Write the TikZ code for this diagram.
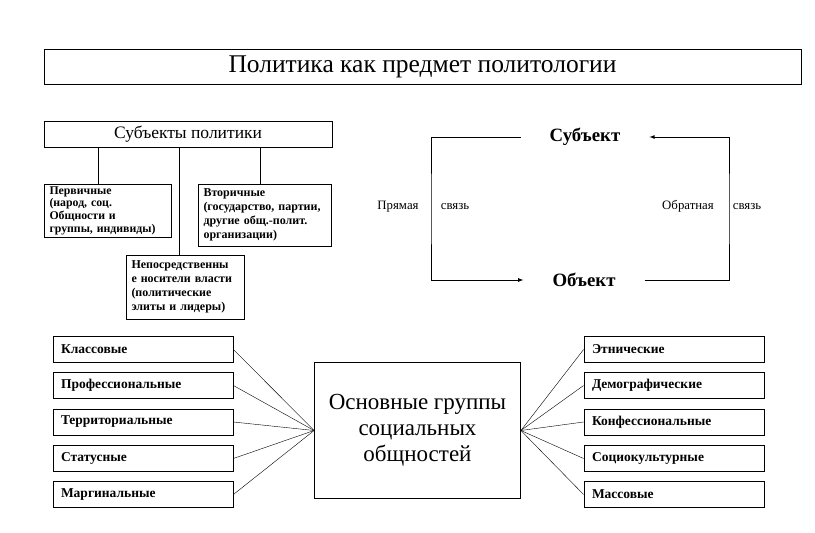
\documentclass[tikz,border=0pt]{standalone}
\usepackage{fontspec}
\setmainfont{Liberation Serif}
\usepackage{tikz}
\usetikzlibrary{arrows}
\tikzset{t/.style={font=\fontsize{25.5}{25.5}\selectfont}}
\tikzset{b/.style={draw, line width=0.8pt, align=left, inner xsep=8pt, inner ysep=0pt}}
\tikzset{s/.style={b, inner xsep=5.5pt, font=\bfseries\fontsize{12}{14}\selectfont}}
\tikzset{g/.style={b, font=\bfseries\fontsize{13.5}{13.5}\selectfont, text width=164pt, minimum height=26pt}}
\tikzset{l/.style={anchor=base, font=\fontsize{12.8}{12.8}\selectfont}}
\tikzset{so/.style={font=\bfseries\fontsize{18.8}{18.8}\selectfont, inner xsep=29pt}}

\begin{document}
\begin{tikzpicture}[x=1pt, y=-1pt]
    \useasboundingbox (0,0) rectangle (815,533);
    % title
    \node [draw, line width=1pt, minimum width=757pt, minimum height=35pt, t] (title) at (422.5,66.5) {Политика как предмет политологии};

    % subjects of politics
    \node [b, align=center, minimum width=288pt, minimum height=26pt, font=\fontsize{17.5}{17.5}\selectfont] (sp) at (188,134) {Субъекты политики};
    \node [s, font=\bfseries\fontsize{11.8}{12.7}\selectfont, text width=116pt, minimum height=53pt] (p1) at (107.5,210.5) {Первичные\\(народ, соц.\\Общности и\\группы, индивиды)};
    \node [s, text width=122pt, minimum height=62pt] (p2) at (264.5,215) {Вторичные\\(государство, партии,\\другие общ.-полит.\\организации)};
    \node [s, text width=107pt, minimum height=64pt] (p3) at (185,287) {Непосредственны\\е носители власти\\(политические\\элиты и лидеры)};
    \draw [line width=0.8pt] (98,0 |- sp.south) -- (98,0 |- p1.north);
    \draw [line width=0.8pt] (179,0 |- sp.south) -- (179,0 |- p3.north);
    \draw [line width=0.8pt] (260,0 |- sp.south) -- (260,0 |- p2.north);

    % subject and object
    \node [so] (S) at (585,137) {Субъект};
    \node [so] (O) at (584,280) {Объект};
    \coordinate (L) at (431,209);
    \coordinate (R) at (729,209);
    \draw [line width=0.8pt, -latex] (S.west) -| (L) |- (O.west);
    \draw [line width=0.8pt, -latex] (O.east) -| (R) |- (S.east);
    \node [l] (d1) at (398,209) {Прямая};
    \node [l] (d2) at (455,209) {связь};
    \node [l] (r1) at (688,209) {Обратная};
    \node [l] (r2) at (747,209) {связь};

    % basic groups
    \node [b, align=center, minimum width=206pt, minimum height=136pt, font=\fontsize{23}{26}\selectfont] (C) at (417.5,430.5) {Основные группы\\социальных\\общностей};
    \node [g] (k1) at (143,349.5) {Классовые};
    \node [g] (k2) at (143,385.5) {Профессиональные};
    \node [g] (k3) at (143,422) {Территориальные};
    \node [g] (k4) at (143,458.5) {Статусные};
    \node [g] (k5) at (143,494.5) {Маргинальные};
    \node [g] (e1) at (674,349.5) {Этнические};
    \node [g] (e2) at (674,385.5) {Демографические};
    \node [g] (e3) at (674,422) {Конфессиональные};
    \node [g] (e4) at (674,458.5) {Социокультурные};
    \node [g] (e5) at (674,494.5) {Массовые};
    \draw (k1.east) -- (C.west);
    \draw (k2.east) -- (C.west);
    \draw (k3.east) -- (C.west);
    \draw (k4.east) -- (C.west);
    \draw (k5.east) -- (C.west);
    \draw (e1.west) -- (C.east);
    \draw (e2.west) -- (C.east);
    \draw (e3.west) -- (C.east);
    \draw (e4.west) -- (C.east);
    \draw (e5.west) -- (C.east);
\end{tikzpicture}
\end{document}
